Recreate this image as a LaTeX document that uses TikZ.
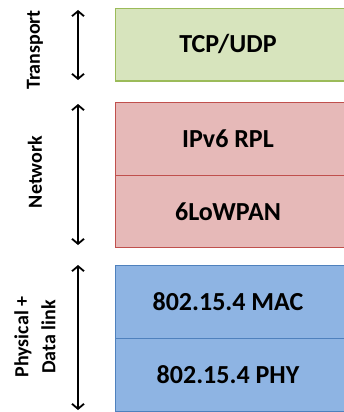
\documentclass[tikz,border=0pt]{standalone}
\usepackage{fontspec}
\setmainfont{Carlito}
\usetikzlibrary{arrows.meta}
\definecolor{tgreen}{HTML}{D7E4BD}
\definecolor{tgreenline}{HTML}{9BBB59}
\definecolor{nred}{HTML}{E6B9B8}
\definecolor{nredline}{HTML}{C0504D}
\definecolor{pblue}{HTML}{8EB4E3}
\definecolor{pblueline}{HTML}{4F81BD}
\tikzset{
  layerbox/.style={rectangle, anchor=north west, minimum width=232pt, inner sep=0pt},
  greenbox/.style={layerbox, fill=tgreen, draw=tgreenline, line width=1.5pt},
  redbox/.style={layerbox, fill=nred, draw=nredline, line width=1.3pt},
  bluebox/.style={layerbox, fill=pblue, draw=pblueline, line width=1pt},
  boxtext/.style={font=\bfseries\fontsize{26}{30}\selectfont},
  sidelabel/.style={rotate=90, font=\bfseries\fontsize{20}{27}\selectfont, align=center},
  span/.style={line width=1.8pt, {Straight Barb[length=5pt,width=12pt]}-{Straight Barb[length=5pt,width=12pt]}}
}
\begin{document}
\begin{tikzpicture}[x=1pt,y=-1pt]
\useasboundingbox (0,0) rectangle (344,412);
% protocol stack
\node[greenbox, minimum height=72pt] (tcp) at (114.5,8) {};
\node[boxtext] (tcpt) at (228,44) {TCP/UDP};
\node[redbox, minimum height=73pt] (rpl) at (114.5,102) {};
\node[redbox, minimum height=72pt] (lowpan) at (114.5,175) {};
\node[boxtext] (rplt) at (228,139) {IPv6 RPL};
\node[boxtext] (lowpant) at (228,212) {6LoWPAN};
\node[bluebox, minimum height=73pt] (mac) at (114.5,265) {};
\node[bluebox, minimum height=73pt] (phy) at (114.5,338) {};
\node[boxtext] (mact) at (228,302) {802.15.4 MAC};
\node[boxtext] (phyt) at (228,375) {802.15.4 PHY};
% layer spans
\coordinate (t1) at (78,10);
\coordinate (t2) at (78,80);
\coordinate (n1) at (78,104);
\coordinate (n2) at (78,245);
\coordinate (p1) at (78,265);
\coordinate (p2) at (78,410);
\draw[span] (t1) -- (t2);
\draw[span] (n1) -- (n2);
\draw[span] (p1) -- (p2);
% layer names
\node[sidelabel] (transport) at (35,50) {Transport};
\node[sidelabel] (network) at (35,172) {Network};
\node[sidelabel] (phys) at (35,337) {Physical +\\Data link};
\end{tikzpicture}
\end{document}
